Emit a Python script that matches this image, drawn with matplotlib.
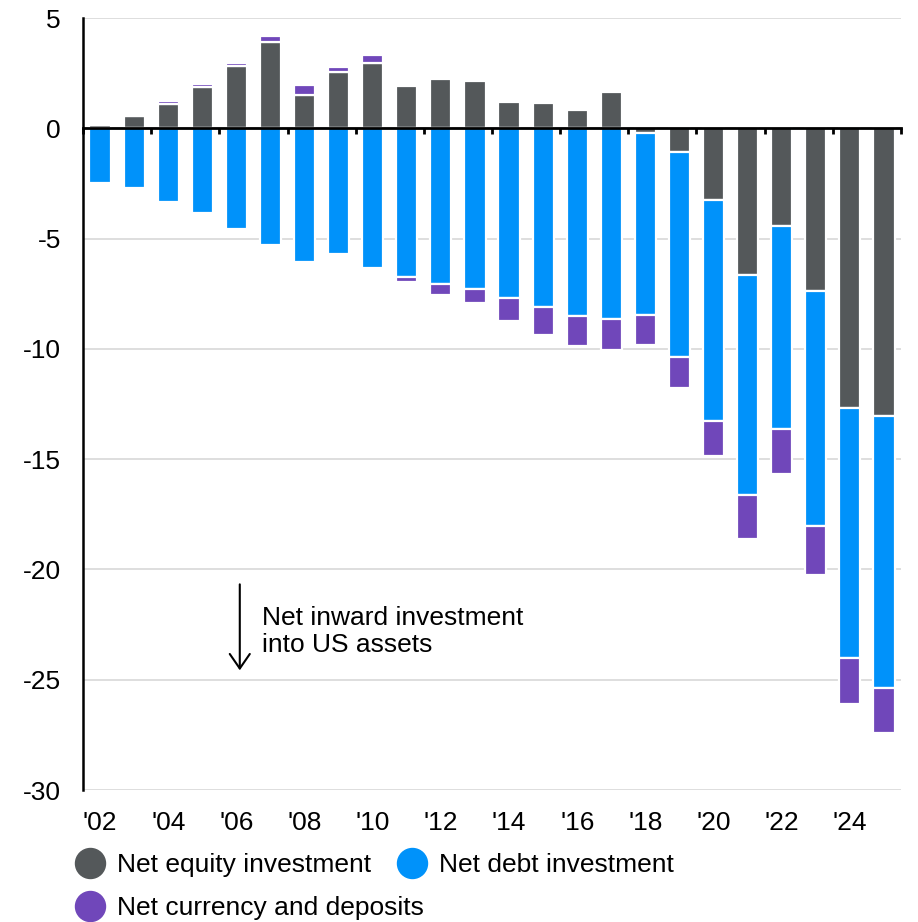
import numpy as np
import matplotlib
matplotlib.use('Agg')
import matplotlib.pyplot as plt
from matplotlib.lines import Line2D

plt.rcParams['font.family'] = ['Liberation Sans', 'DejaVu Sans']

years = ["'02", "'03", "'04", "'05", "'06", "'07", "'08", "'09", "'10", "'11", "'12", "'13",
         "'14", "'15", "'16", "'17", "'18", "'19", "'20", "'21", "'22", "'23", "'24", "'25"]
equity = [0.14, 0.54, 1.1, 1.87, 2.82, 3.91, 1.5, 2.55, 2.96, 1.92, 2.25, 2.14,
          1.21, 1.16, 0.85, 1.65, -0.2, -1.07, -3.26, -6.66, -4.41, -7.36, -12.69, -13.03]
debt = [-2.48, -2.72, -3.32, -3.82, -4.55, -5.3, -6.06, -5.71, -6.33, -6.74, -7.05, -7.3,
        -7.7, -8.11, -8.49, -8.63, -8.27, -9.29, -10.0, -9.97, -9.23, -10.66, -11.31, -12.34]
currency = [0.0, 0.0, 0.12, 0.15, 0.12, 0.27, 0.45, 0.22, 0.38, -0.22, -0.5, -0.64,
            -1.03, -1.27, -1.36, -1.43, -1.37, -1.43, -1.6, -2.0, -2.02, -2.22, -2.08, -2.04]
series_names = ['Net equity investment', 'Net debt investment', 'Net currency and deposits']
colors = ['#54585a', '#0092fa', '#7047ba']

fig = plt.figure(figsize=(9.18, 9.22), dpi=100)
ax = fig.add_axes([83 / 918, 1 - 790 / 922, 818 / 918, 772 / 922])

x = np.arange(len(years))
pos_base = np.zeros(len(years))
neg_base = np.zeros(len(years))
for vals, c in zip([equity, debt, currency], colors):
    vals = np.array(vals)
    bottom = np.where(vals >= 0, pos_base, neg_base)
    ax.bar(x, vals, width=0.62, bottom=bottom, color=c, edgecolor='white', linewidth=1.6)
    pos_base += np.clip(vals, 0, None)
    neg_base += np.clip(vals, None, 0)

ax.set_xlim(-0.5, len(years) - 0.5)
ax.set_ylim(-30, 5)
ax.set_yticks(np.arange(-30, 6, 5))
ax.set_yticklabels([str(v) for v in range(-30, 6, 5)])
ax.tick_params(axis='y', length=0, pad=16, labelsize=19)
ax.set_axisbelow(True)
ax.grid(axis='y', color='#d4d4d4', linewidth=1.1)

for s in ['top', 'right']:
    ax.spines[s].set_visible(False)
ax.spines['left'].set_linewidth(1.8)
ax.spines['bottom'].set_position(('data', 0))
ax.spines['bottom'].set_linewidth(2)
ax.set_xticks(np.arange(-0.5, len(years), 2))
ax.set_xticklabels([])
ax.tick_params(axis='x', direction='out', length=4.5, width=2)

sec = ax.secondary_xaxis('bottom')
sec.set_xticks(x[::2], years[::2])
sec.spines['bottom'].set_visible(False)
sec.tick_params(length=0, pad=15, labelsize=19)

ax.annotate('', xy=(4.1, -24.7), xytext=(4.1, -20.55),
            arrowprops=dict(arrowstyle='->,head_length=0.55,head_width=0.38', color='black', lw=1.5),
            fontsize=19)
ax.text(4.75, -22.8, 'Net inward investment\ninto US assets', fontsize=19,
        va='center', ha='left', linespacing=1.15)

handles = [Line2D([], [], marker='o', linestyle='none', markersize=21.6, color=c) for c in colors]
common = dict(frameon=False, borderpad=0, borderaxespad=0, handlelength=1.2,
              handletextpad=0.43, columnspacing=0.95, fontsize=19, loc='center left')
fig.legend(handles[:2], series_names[:2], ncol=2, bbox_to_anchor=(74 / 918, 1 - 865 / 922), **common)
fig.legend(handles[2:], series_names[2:], ncol=1, bbox_to_anchor=(74 / 918, 1 - 908 / 922), **common)

fig.savefig('out.png', dpi=100)
